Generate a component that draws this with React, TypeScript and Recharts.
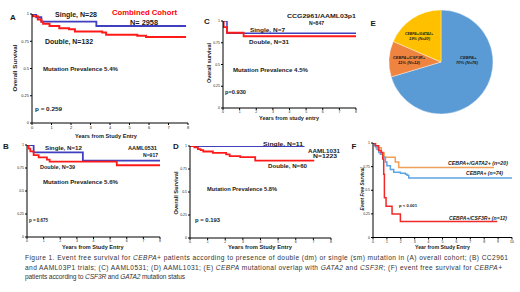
import React from 'react';
import { LineChart, Line, XAxis, YAxis, PieChart, Pie, Cell } from 'recharts';

// ---------- tick labels ----------
const yearTicks8 = [0, 1, 2, 3, 4, 5, 6, 7, 8];
const yearTicks10 = [0, 1, 2, 3, 4, 5, 6, 7, 8, 9, 10];
const survTicks = [0, 0.25, 0.5, 0.75, 1];

// ---------- Panel A: combined cohort ----------
const aSingleYears = [0, 0.22, 0.48, 3.3, 7.9];
const aSingleSurv = [1, 0.97, 0.93, 0.89, 0.89];
const aDoubleYears = [0, 0.05, 0.3, 0.48, 0.57, 0.9, 1.4, 1.9, 2.2, 3.6, 3.8, 5.4, 5.85, 7.9];
const aDoubleSurv = [1, 0.98, 0.95, 0.93, 0.91, 0.89, 0.87, 0.86, 0.84, 0.83, 0.81, 0.8, 0.79, 0.79];

// ---------- Panel B: AAML0531 ----------
const bSingleYears = [0, 0.4, 3.36, 8];
const bSingleSurv = [1, 0.92, 0.83, 0.83];
const bDoubleYears = [0, 0.1, 0.2, 0.4, 0.7, 1.2, 1.36, 5.4, 8];
const bDoubleSurv = [1, 0.96, 0.93, 0.89, 0.865, 0.84, 0.82, 0.78, 0.78];

// ---------- Panel C: CCG2961/AAML03p1 ----------
const cSingleYears = [0, 0.24, 8];
const cSingleSurv = [1, 0.86, 0.86];
const cDoubleYears = [0, 0.04, 0.24, 1.24, 8];
const cDoubleSurv = [1, 0.93, 0.865, 0.825, 0.825];

// ---------- Panel D: AAML1031 ----------
const dSingleYears = [0, 6.5];
const dSingleSurv = [1, 1];
const dDoubleYears = [0, 0.25, 0.45, 0.6, 0.75, 1.3, 2.05, 2.25, 2.85, 3.7, 7.05];
const dDoubleSurv = [1, 0.985, 0.965, 0.955, 0.94, 0.925, 0.91, 0.89, 0.88, 0.84, 0.84];

// ---------- Panel E: mutational overlap ----------
const pieNames = ['CEBPA+', 'CEBPA+/CSF3R+', 'CEBPA+/GATA2+'];
const pieCounts = [76, 12, 20];
const pieColors = ['#5B9BD5', '#EF8440', '#FFC000'];

// ---------- Panel F: EFS by co-mutation ----------
const fGata2Years = [0, 0.2, 0.6, 0.8, 1.6, 1.85, 8.7];
const fGata2Efs = [1, 0.95, 0.9, 0.85, 0.8, 0.74, 0.74];
const fCebpaYears = [0, 0.1, 0.29, 0.41, 0.53, 0.72, 0.89, 1.0, 1.25, 1.49, 1.97, 2.33, 2.45, 2.57, 10];
const fCebpaEfs = [1, 0.97, 0.93, 0.9, 0.88, 0.85, 0.8, 0.76, 0.72, 0.69, 0.68, 0.67, 0.66, 0.63, 0.63];
const fCsf3rYears = [0, 0.17, 0.41, 0.58, 0.7, 0.77, 0.82, 0.94, 1.37, 1.97, 8.94];
const fCsf3rEfs = [1, 0.97, 0.92, 0.9, 0.83, 0.67, 0.42, 0.33, 0.25, 0.17, 0.17];

const toPts = (xs: number[], ys: number[]) => xs.map((x, i) => ({ x, y: ys[i] }));

const BLUE = '#3F3FBF';
const RED = '#FF1A1A';

type Series = { data: { x: number; y: number }[]; color: string; w: number };

function KM(props: {
  x0: number; x1: number; yTop: number; yBot: number; xMax: number;
  ticks: number[]; series: Series[]; fs?: number;
}) {
  const { x0, x1, yTop, yBot, xMax, ticks, series } = props;
  const fs = props.fs ?? 4;
  const padL = 30, padR = 10, padT = 10, padB = 25;
  const w = x1 - x0 + padL + padR;
  const h = yBot - yTop + padT + padB;
  return (
    <div style={{ position: 'absolute', left: x0 - padL, top: yTop - padT, width: w, height: h }}>
      <LineChart width={w} height={h} margin={{ top: padT, right: padR, left: 0, bottom: 0 }}>
        <XAxis
          type="number" dataKey="x" domain={[0, xMax]} ticks={ticks} interval={0}
          height={padB} tickSize={2} tickMargin={1} allowDataOverflow
          axisLine={{ stroke: '#000', strokeWidth: 1 }} tickLine={{ stroke: '#000' }}
          tick={{ fontSize: fs, fill: '#222', fontFamily: 'Liberation Sans, Arial' }}
        />
        <YAxis
          type="number" domain={[0, 1]} ticks={survTicks} interval={0}
          width={padL} tickSize={2} tickMargin={1} allowDataOverflow
          axisLine={{ stroke: '#000', strokeWidth: 1 }} tickLine={{ stroke: '#000' }}
          tick={{ fontSize: fs, fill: '#222', fontFamily: 'Liberation Sans, Arial' }}
        />
        {series.map((s, i) => (
          <Line key={i} data={s.data} dataKey="y" type="stepAfter" stroke={s.color}
            strokeWidth={s.w} dot={false} isAnimationActive={false} />
        ))}
      </LineChart>
    </div>
  );
}

type TP = { x: number; cy: number; w?: number; s: number; t: string; b?: boolean; c?: string; it?: boolean; rot?: boolean };
function T({ x, cy, w, s, t, b = true, c = '#1a1a1a', it = false, rot = false }: TP) {
  if (rot) {
    return (
      <text x={x} y={cy + s * 0.35} fontSize={s} fontWeight={b ? 700 : 400} fill={c}
        fontStyle={it ? 'italic' : 'normal'} textAnchor="middle"
        transform={`rotate(-90 ${x} ${cy})`} textLength={w} lengthAdjust="spacingAndGlyphs">{t}</text>
    );
  }
  return (
    <text x={x} y={cy + s * 0.35} fontSize={s} fontWeight={b ? 700 : 400} fill={c}
      fontStyle={it ? 'italic' : 'normal'} textLength={w} lengthAdjust="spacingAndGlyphs">{t}</text>
  );
}

const captionLines: [string, boolean][][] = [
  [['Figure 1. Event free survival for ', false], ['CEBPA+', true], [' patients according to presence of double (dm) or single (sm) mutation in (A) overall cohort; (B) CC2961', false]],
  [['and AAML03P1 trials; (C) AAML0531; (D) AAML1031; (E) ', false], ['CEBPA', true], [' mutational overlap with ', false], ['GATA2', true], [' and ', false], ['CSF3R', true], ['; (F) event free survival for ', false], ['CEBPA+', true]],
  [['patients according to ', false], ['CSF3R', true], [' and ', false], ['GATA2', true], [' mutation status', false]],
];
const captionWidths = [483, 477, 160];

export default function App() {
  const pieData = pieNames.map((name, i) => ({ name, value: pieCounts[i] }));
  return (
    <div style={{ position: 'absolute', left: 0, top: 0, width: 520, height: 292, background: '#fff', overflow: 'hidden', fontFamily: 'Liberation Sans, Arial, sans-serif' }}>
      {/* A */}
      <KM x0={32} x1={188} yTop={14} yBot={123} xMax={8} ticks={yearTicks8}
        series={[
          { data: toPts(aSingleYears, aSingleSurv), color: BLUE, w: 1.8 },
          { data: toPts(aDoubleYears, aDoubleSurv), color: RED, w: 2 },
        ]} />
      {/* C */}
      <KM x0={223} x1={356} yTop={21} yBot={108} xMax={8} ticks={yearTicks8} fs={3.5}
        series={[
          { data: toPts(cSingleYears, cSingleSurv), color: BLUE, w: 1.5 },
          { data: toPts(cDoubleYears, cDoubleSurv), color: RED, w: 1.8 },
        ]} />
      {/* B */}
      <KM x0={27} x1={160} yTop={145} yBot={237} xMax={8} ticks={yearTicks8} fs={3.5}
        series={[
          { data: toPts(bSingleYears, bSingleSurv), color: BLUE, w: 1.8 },
          { data: toPts(bDoubleYears, bDoubleSurv), color: RED, w: 1.8 },
        ]} />
      {/* D */}
      <KM x0={190} x1={331} yTop={146} yBot={238} xMax={8} ticks={yearTicks8} fs={3.5}
        series={[
          { data: toPts(dSingleYears, dSingleSurv), color: BLUE, w: 1.8 },
          { data: toPts(dDoubleYears, dDoubleSurv), color: RED, w: 1.8 },
        ]} />
      {/* F */}
      <KM x0={373} x1={512} yTop={142.5} yBot={237} xMax={10} ticks={yearTicks10} fs={3.5}
        series={[
          { data: toPts(fGata2Years, fGata2Efs), color: '#F0A058', w: 1.5 },
          { data: toPts(fCebpaYears, fCebpaEfs), color: '#5DA5E3', w: 1.5 },
          { data: toPts(fCsf3rYears, fCsf3rEfs), color: '#F02828', w: 1.5 },
        ]} />
      {/* E pie */}
      <div style={{ position: 'absolute', left: 380.7, top: 1.7, width: 120, height: 120 }}>
        <PieChart width={120} height={120} margin={{ top: 0, right: 0, bottom: 0, left: 0 }}>
          <Pie data={pieData} dataKey="value" cx={60} cy={60} outerRadius={52} innerRadius={0}
            startAngle={90} endAngle={-270} stroke="#fff" strokeWidth={0.4} isAnimationActive={false}>
            {pieData.map((d, i) => <Cell key={d.name} fill={pieColors[i]} />)}
          </Pie>
        </PieChart>
      </div>

      {/* text overlay */}
      <svg width={520} height={292} style={{ position: 'absolute', left: 0, top: 0, pointerEvents: 'none' }}
        fontFamily="Liberation Sans, Arial, sans-serif">
        {/* A */}
        <T x={10} cy={17} s={8} t="A" />
        <T x={55} cy={15} w={42} s={6.3} t="Single, N=28" />
        <T x={112} cy={13} w={65} s={6.5} t="Combined Cohort" c="#FF0000" />
        <T x={130} cy={23} w={28} s={6.3} t="N= 2958" />
        <T x={45} cy={42} w={48} s={6.3} t="Double, N=132" />
        <T x={43} cy={69} w={75} s={4.8} t="Mutation Prevalence  5.4%" />
        <T x={35} cy={109} w={27} s={5} t="p = 0.259" />
        <T x={15} cy={68} w={47} s={5.5} t="Overall Survival" rot />
        <T x={75} cy={136} w={62} s={5.3} t="Years from Study Entry" />
        {/* B */}
        <T x={3} cy={146} s={8} t="B" />
        <T x={45} cy={148} w={37} s={5.8} t="Single, N=12" />
        <T x={128} cy={148} w={29} s={5.5} t="AAML0531" />
        <T x={143} cy={155} w={15} s={5} t="N=917" />
        <T x={40} cy={167} w={35} s={5.8} t="Double, N=39" />
        <T x={43} cy={182} w={75} s={5} t="Mutation Prevalence  5.6%" />
        <T x={29} cy={220} w={19} s={4.5} t="p = 0.675" />
        <T x={62} cy={247.3} w={61.5} s={5.3} t="Years from Study Entry" />
        {/* C */}
        <T x={204} cy={21} s={8} t="C" />
        <T x={287} cy={16} w={69} s={5.5} t="CCG2961/AAML03p1" />
        <T x={309} cy={23.3} w={15} s={5} t="N=847" />
        <T x={250} cy={30} w={35} s={5.5} t="Single, N=7" />
        <T x={249} cy={42} w={40} s={5.5} t="Double, N=31" />
        <T x={233} cy={70} w={75} s={5} t="Mutation Prevalence  4.5%" />
        <T x={225} cy={92.3} w={21} s={4.5} t="p=0.930" />
        <T x={209} cy={63} w={40} s={4.5} t="Overall survival" rot />
        <T x={259} cy={118} w={60} s={4.8} t="Years from study entry" />
        {/* D */}
        <T x={173} cy={146} s={8} t="D" />
        <T x={263} cy={144} w={40} s={5.8} t="Single, N=11" />
        <T x={308} cy={151} w={32} s={5.5} t="AAML1031" />
        <T x={313} cy={156.5} w={24} s={5} t="N=1223" />
        <T x={268} cy={166} w={39} s={5.8} t="Double, N=60" />
        <T x={207} cy={189} w={70} s={5} t="Mutation Prevalence  5.8%" />
        <T x={195} cy={220} w={25} s={4.8} t="p = 0.193" />
        <T x={176} cy={193} w={43} s={4.8} t="Overall Survival" rot />
        <T x={228} cy={247.5} w={64} s={5.3} t="Years from Study Entry" />
        {/* E */}
        <T x={370.5} cy={22.7} s={8} t="E" />
        <T x={460} cy={57.3} w={16.5} s={3.8} t="CEBPA+" it />
        <T x={456} cy={62.3} w={22} s={3.8} t="70% (N=76)" it />
        <T x={393} cy={57.3} w={32} s={3.8} t="CEBPA+/CSF3R+" it />
        <T x={398} cy={62.3} w={22} s={3.8} t="11% (N=12)" it />
        <T x={405} cy={34} w={28} s={3.8} t="CEBPA+/GATA2+" it />
        <T x={409} cy={39} w={21} s={3.8} t="19% (N=20)" it />
        {/* F */}
        <T x={351.5} cy={146} s={8} t="F" />
        <T x={362} cy={189} w={43} s={4.8} t="Event Free Survival" it rot />
        <T x={448} cy={163} w={60} s={5} t="CEBPA+/GATA2+ (n=20)" it />
        <T x={466} cy={173.7} w={37} s={5} t="CEBPA+ (n=74)" it />
        <T x={399} cy={206} w={18} s={4} t="p < 0.001" />
        <T x={449} cy={218} w={58} s={5} t="CEBPA+/CSF3R+ (n=12)" it />
        <T x={415} cy={247.7} w={55} s={5} t="Year from Study Entry" />
        {/* caption */}
        {captionLines.map((line, li) => (
          <text key={li} x={25} y={257.5 + li * 9.6 + 2.4} fontSize={6.6} fill="#333"
            textLength={captionWidths[li]} lengthAdjust="spacing">
            {line.map(([s, it], si) => (
              <tspan key={si} fontStyle={it ? 'italic' : 'normal'}>{s}</tspan>
            ))}
          </text>
        ))}
      </svg>
    </div>
  );
}
